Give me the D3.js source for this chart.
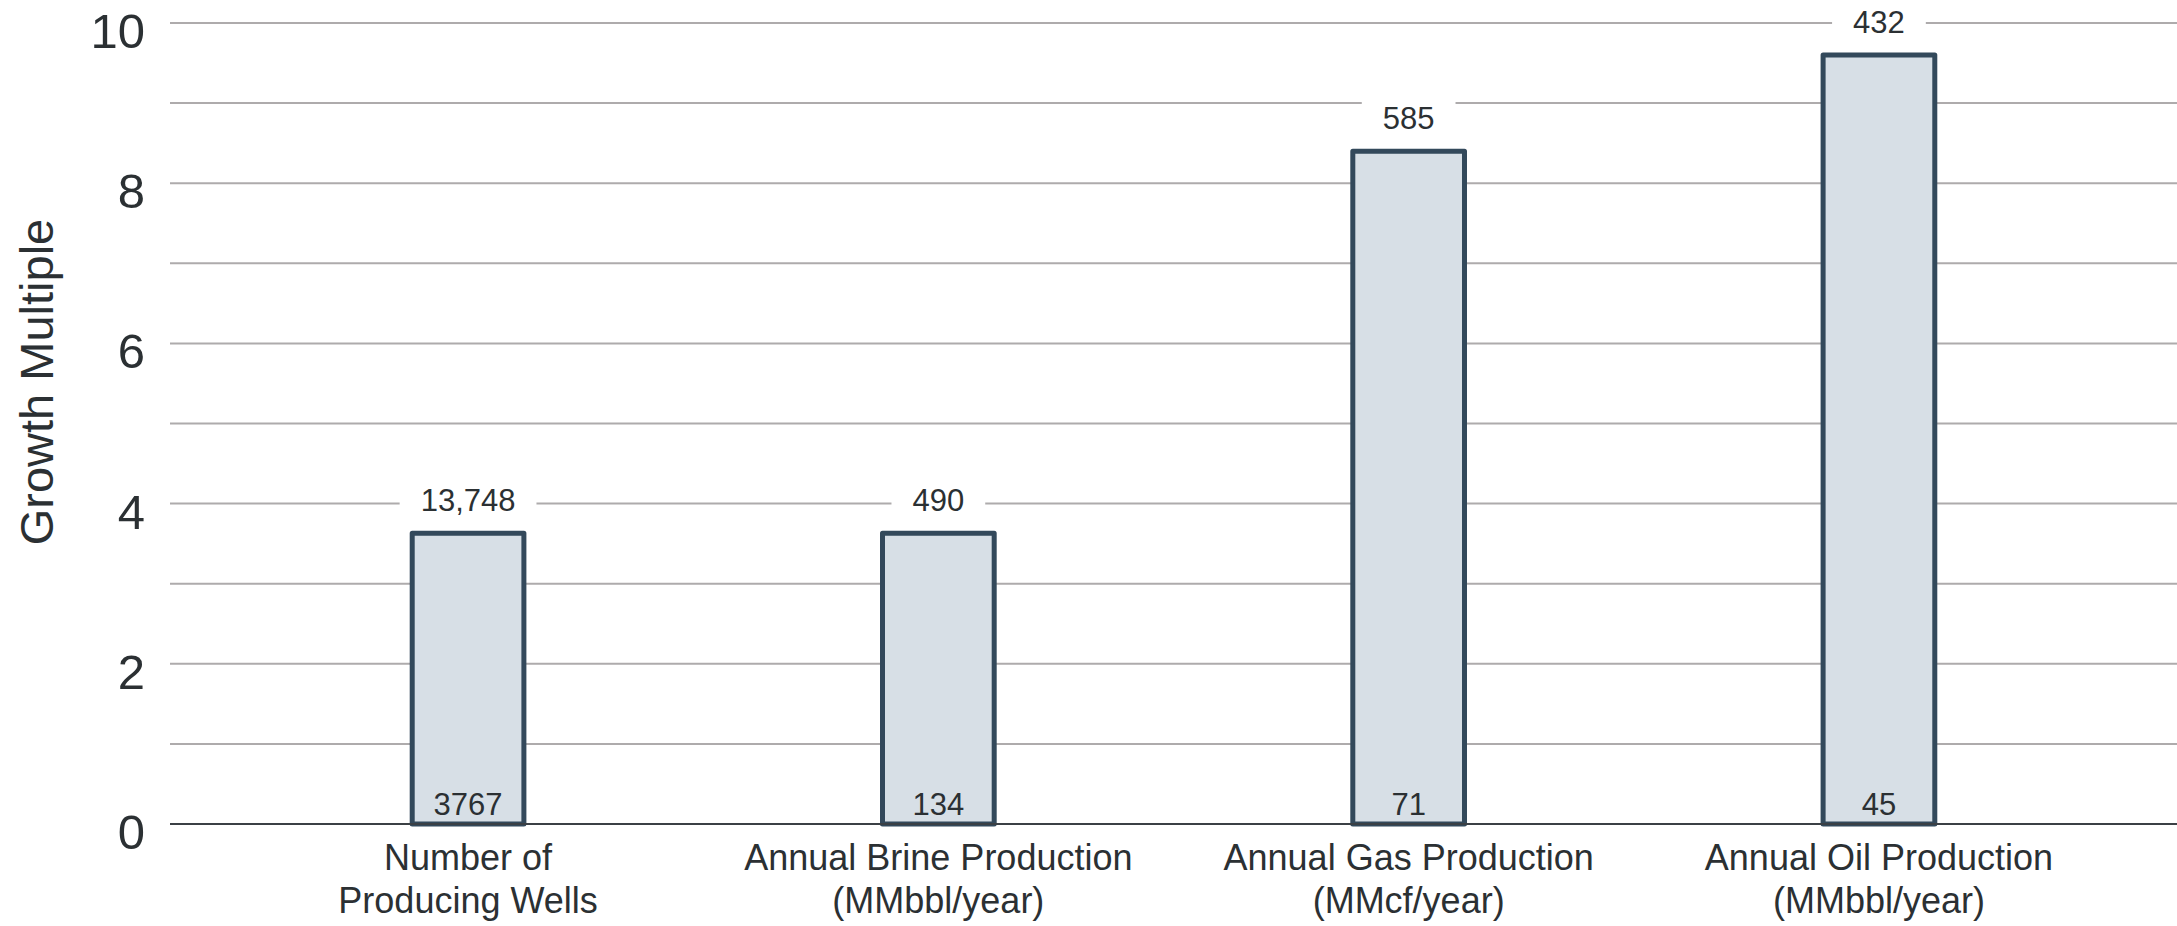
<!DOCTYPE html>
<html>
<head>
<meta charset="utf-8">
<script src="https://cdn.jsdelivr.net/npm/d3@7"></script>
<style>
  html, body { margin: 0; padding: 0; background: #ffffff; }
  svg { display: block; }
  text { font-family: "Liberation Sans", Arial, Helvetica, sans-serif; fill: #2b3033; }
</style>
</head>
<body>
<svg id="chart" width="2177" height="926"></svg>
<script>
// Category labels (two lines each)
const categories = [
  ["Number of", "Producing Wells"],
  ["Annual Brine Production", "(MMbbl/year)"],
  ["Annual Gas Production", "(MMcf/year)"],
  ["Annual Oil Production", "(MMbbl/year)"]
];
// Growth multiple for each measure
const growthMultiple = [3.63, 3.63, 8.4, 9.6];
// Starting value (printed at bar base) and ending value (printed above bar)
const startValues = ["3767", "134", "71", "45"];
const endValues = ["13,748", "490", "585", "432"];
const yTicks = [0, 2, 4, 6, 8, 10];

const W = 2177, H = 926;
const plot = { left: 170, right: 2177, top: 23, bottom: 824 };

const svg = d3.select("#chart");
const keys = categories.map(c => c.join(" "));

const x = d3.scaleBand()
  .domain(keys)
  .range([plot.left, plot.right])
  .paddingInner(0.7625)
  .paddingOuter(0.515);

const y = d3.scaleLinear()
  .domain([0, 10])
  .range([plot.bottom, plot.top]);

// Horizontal gridlines at every unit
const grid = svg.append("g").attr("class", "grid");
grid.selectAll("line")
  .data(d3.range(1, 11))
  .join("line")
  .attr("x1", plot.left)
  .attr("x2", plot.right)
  .attr("y1", d => y(d))
  .attr("y2", d => y(d))
  .attr("stroke", "#aeabac")
  .attr("stroke-width", 2);

// Y axis labels
const yAxis = d3.axisLeft(y).tickValues(yTicks).tickSize(0).tickPadding(25).tickFormat(d3.format("d"));
const gy = svg.append("g")
  .attr("transform", `translate(${plot.left},0)`)
  .call(yAxis);
gy.select(".domain").remove();
gy.selectAll("text")
  .attr("font-size", 49)
  .attr("dy", "0.5em")
  .style("font-family", "\"Liberation Sans\", Arial, sans-serif")
  .attr("fill", "#2b3033");

// Y axis title
svg.append("text")
  .attr("transform", `translate(53, 382) rotate(-90)`)
  .attr("text-anchor", "middle")
  .attr("font-size", 47)
  .text("Growth Multiple");

// Bars
const data = keys.map((k, i) => ({ key: k, value: growthMultiple[i], start: startValues[i], end: endValues[i] }));

svg.append("g").selectAll("rect")
  .data(data)
  .join("rect")
  .attr("x", d => x(d.key))
  .attr("width", x.bandwidth())
  .attr("y", d => y(d.value))
  .attr("height", d => y(0) - y(d.value))
  .attr("fill", "#d7dfe6")
  .attr("stroke", "#33495b")
  .attr("stroke-width", 5)
  .attr("stroke-linejoin", "round");

// Baseline
svg.append("line")
  .attr("x1", plot.left)
  .attr("x2", plot.right)
  .attr("y1", y(0))
  .attr("y2", y(0))
  .attr("stroke", "#3b4045")
  .attr("stroke-width", 2);

// End-value labels above bars, on a white backing that interrupts gridlines
const endG = svg.append("g").selectAll("g")
  .data(data)
  .join("g")
  .attr("transform", d => `translate(${x(d.key) + x.bandwidth() / 2},${y(d.value) - 33})`);
endG.append("text")
  .attr("text-anchor", "middle")
  .attr("dominant-baseline", "central")
  .attr("font-size", 31)
  .text(d => d.end)
  .each(function () {
    const b = this.getBBox();
    d3.select(this.parentNode).insert("rect", "text")
      .attr("x", b.x - 21)
      .attr("y", b.y - 8)
      .attr("width", b.width + 42)
      .attr("height", b.height + 16)
      .attr("fill", "#ffffff");
  });

// Start-value labels inside bar bases
svg.append("g").selectAll("text")
  .data(data)
  .join("text")
  .attr("x", d => x(d.key) + x.bandwidth() / 2)
  .attr("y", y(0) - 9)
  .attr("text-anchor", "middle")
  .attr("font-size", 31)
  .text(d => d.start);

// Category labels
const catG = svg.append("g").selectAll("text")
  .data(categories.map((c, i) => ({ lines: c, key: keys[i] })))
  .join("text")
  .attr("text-anchor", "middle")
  .attr("font-size", 36)
  .attr("transform", d => `translate(${x(d.key) + x.bandwidth() / 2},0)`);
catG.selectAll("tspan")
  .data(d => d.lines)
  .join("tspan")
  .attr("x", 0)
  .attr("y", (d, i) => 870 + i * 43)
  .text(d => d);
</script>
</body>
</html>
